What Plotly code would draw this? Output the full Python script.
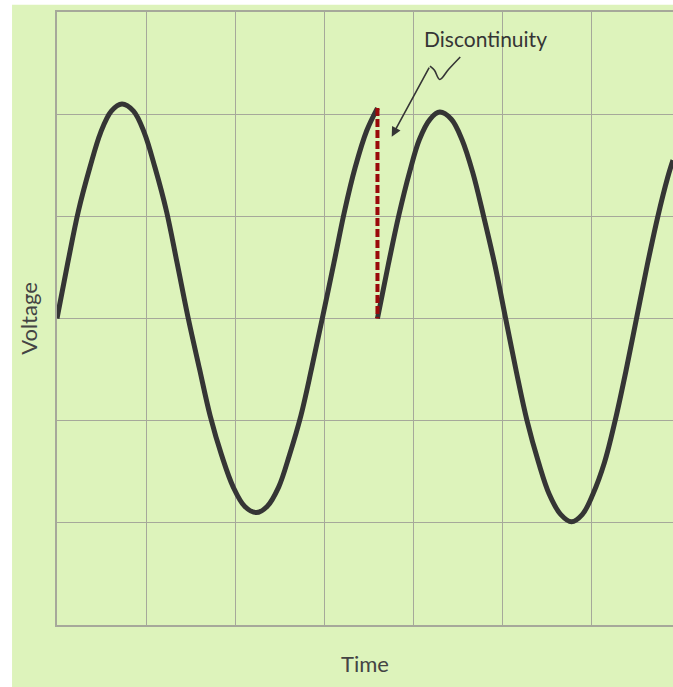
import plotly.graph_objects as go

# sine wave (time in grid units, voltage in grid units)
time_a = [0.0, 0.12, 0.24, 0.37, 0.49, 0.61, 0.73, 0.86, 0.98, 1.10, 1.23, 1.35, 1.47,
          1.60, 1.72, 1.85, 1.98, 2.11, 2.24, 2.36, 2.49, 2.61, 2.74, 2.86, 2.98,
          3.11, 3.23, 3.35, 3.48, 3.60]
volt_a = [0.0, 0.54, 1.05, 1.48, 1.82, 2.03, 2.10, 2.03, 1.82, 1.48, 1.05, 0.54, 0.02,
          -0.49, -0.95, -1.34, -1.65, -1.84, -1.90, -1.84, -1.65, -1.34, -0.95, -0.49, 0.0,
          0.54, 1.05, 1.48, 1.84, 2.06]
time_b = [3.60, 3.72, 3.84, 3.96, 4.07, 4.19, 4.30, 4.43, 4.55, 4.67, 4.79, 4.92, 5.04,
          5.16, 5.28, 5.41, 5.53, 5.66, 5.78, 5.90, 6.02, 6.15, 6.27, 6.39, 6.51,
          6.63, 6.75, 6.86, 6.92]
volt_b = [0.0, 0.52, 1.01, 1.43, 1.75, 1.95, 2.02, 1.95, 1.75, 1.43, 1.01, 0.52, 0.0,
          -0.52, -1.0, -1.41, -1.72, -1.92, -1.99, -1.92, -1.72, -1.41, -1.0, -0.52, 0.0,
          0.52, 1.0, 1.38, 1.55]

# the jump
jump_t = [3.60, 3.60]
jump_v = [2.06, 0.0]

# little squiggle of the pointer
squig_t = [4.53, 4.40, 4.30, 4.24, 4.19]
squig_v = [2.56, 2.44, 2.34, 2.43, 2.47]

GREEN = '#ddf3bb'
INK = '#353535'
GRID = '#a6a89a'

fig = go.Figure()
fig.add_trace(go.Scatter(x=time_a, y=volt_a, mode='lines', line=dict(color=INK, width=5, shape='spline', smoothing=1)))
fig.add_trace(go.Scatter(x=time_b, y=volt_b, mode='lines', line=dict(color=INK, width=5, shape='spline', smoothing=1)))
fig.add_trace(go.Scatter(x=jump_t, y=jump_v, mode='lines', line=dict(color='#9a0a0a', width=4, dash='8px,3px')))
fig.add_trace(go.Scatter(x=squig_t, y=squig_v, mode='lines', line=dict(color=INK, width=1.6, shape='spline')))

fig.add_annotation(x=3.76, y=1.78, ax=4.19, ay=2.47, axref='x', ayref='y', xref='x', yref='y',
                   text='', showarrow=True, arrowhead=2, arrowsize=1.2, arrowwidth=1.6, arrowcolor=INK)
fig.add_annotation(x=4.81, y=2.74, xref='x', yref='y', text='Discontinuity', showarrow=False,
                   font=dict(family='Lato', size=21, color=INK))

# green card behind everything
fig.add_shape(type='rect', xref='paper', yref='paper', x0=-0.073, x1=1.0, y0=-0.11, y1=1.012,
              fillcolor=GREEN, line=dict(width=0), layer='below')

fig.update_layout(
    width=673,
    height=687,
    margin=dict(l=57, r=0, t=12, b=62),
    paper_bgcolor='white',
    plot_bgcolor=GREEN,
    showlegend=False,
    font=dict(family='Lato', color='#444'),
    xaxis=dict(range=[0, 6.92], dtick=1, tick0=0, showticklabels=False, ticks='',
               showgrid=True, gridcolor=GRID, gridwidth=1, zeroline=False,
               showline=True, linecolor=GRID, linewidth=1.5, mirror=True,
               title=dict(text='Time', font=dict(size=22), standoff=31)),
    yaxis=dict(range=[-3, 3], dtick=1, tick0=0, showticklabels=False, ticks='',
               showgrid=True, gridcolor=GRID, gridwidth=1, zeroline=False,
               showline=True, linecolor=GRID, linewidth=1.5,
               title=dict(text='Voltage', font=dict(size=22), standoff=12)),
)

fig.write_html("out.html", config={'displayModeBar': False},
               post_script="document.body.style.margin='0';")
